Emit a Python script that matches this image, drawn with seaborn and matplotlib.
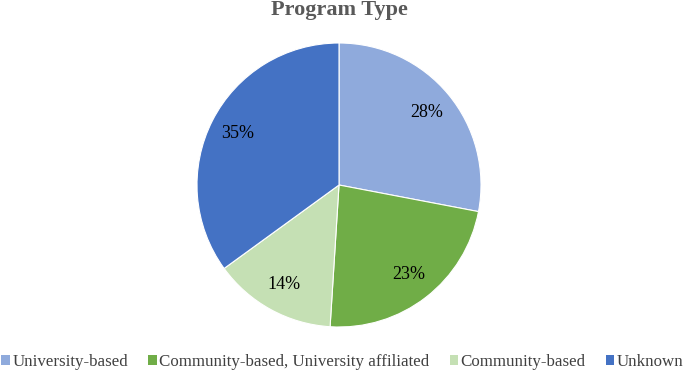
import matplotlib
matplotlib.use('Agg')
import matplotlib.pyplot as plt
import seaborn as sns
from matplotlib.patches import Patch

# Data
categories = ['University-based', 'Community-based, University affiliated',
              'Community-based', 'Unknown']
shares = [28, 23, 14, 35]
colors = ['#8FAADC', '#70AD47', '#C5E0B4', '#4472C4']

sns.set_theme(style='white')
plt.rcParams['font.family'] = ['Liberation Serif', 'DejaVu Serif']

fig = plt.figure(figsize=(6.85, 3.71), dpi=100)
W, H = 685, 371
cx, cy, r = 339, 185, 142
ax = fig.add_axes([(cx - r) / W, (H - cy - r) / H, 2 * r / W, 2 * r / H])

wedges, texts, autotexts = ax.pie(
    shares, colors=colors, startangle=90, counterclock=False,
    autopct='%d%%', pctdistance=0.8, radius=1,
    wedgeprops=dict(edgecolor='white', linewidth=0.8),
    textprops=dict(fontsize=13, color='black'))
ax.set_xlim(-1, 1)
ax.set_ylim(-1, 1)
ax.set_aspect('equal')
ax.axis('off')

fig.text(0.495, 0.972, 'Program Type', ha='center', va='center',
         fontsize=16, fontweight='bold', color='#595959')

handles = [Patch(facecolor=c, edgecolor='none') for c in colors]
fig.legend(handles, categories, loc='center', bbox_to_anchor=(0.5, 0.025),
           ncol=4, frameon=False, fontsize=12.2, handlelength=0.5,
           handleheight=0.5, handletextpad=0.15, columnspacing=1.2,
           borderpad=0, borderaxespad=0, labelcolor='#404040')

fig.savefig('out.png', dpi=100)
